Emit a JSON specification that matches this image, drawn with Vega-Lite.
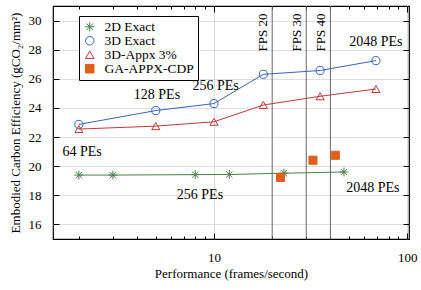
{
  "$schema": "https://vega.github.io/schema/vega-lite/v6.json",
  "width": 356,
  "height": 233,
  "autosize": {"type": "none"},
  "padding": {"left": 53, "top": 6, "right": 12, "bottom": 51},
  "config": {
    "view": {"stroke": "black", "strokeWidth": 1.2},
    "font": "Liberation Serif",
    "axis": {
      "labelFont": "Liberation Serif", "titleFont": "Liberation Serif",
      "labelFontSize": 13, "titleFontSize": 13, "labelColor": "black", "titleColor": "black",
      "titleFontWeight": "normal", "domain": false, "tickColor": "black", "tickWidth": 1
    },
    "legend": {
      "orient": "none", "legendX": 26, "legendY": 10,
      "strokeColor": "black", "fillColor": "white", "padding": 4,
      "labelFont": "Liberation Serif", "labelFontSize": 13.5, "labelColor": "black",
      "labelOffset": 8, "symbolSize": 72, "symbolStrokeWidth": 1, "rowPadding": -1
    },
    "text": {"font": "Liberation Serif"}
  },
  "datasets": {
    "series": [
      {"series": "2D Exact", "x": 2, "y": 19.39},
      {"series": "2D Exact", "x": 3, "y": 19.39},
      {"series": "2D Exact", "x": 8, "y": 19.42},
      {"series": "2D Exact", "x": 12, "y": 19.43},
      {"series": "2D Exact", "x": 23, "y": 19.52},
      {"series": "2D Exact", "x": 47, "y": 19.6},
      {"series": "3D Exact", "x": 2, "y": 22.87},
      {"series": "3D Exact", "x": 5, "y": 23.82},
      {"series": "3D Exact", "x": 10, "y": 24.3},
      {"series": "3D Exact", "x": 18, "y": 26.31},
      {"series": "3D Exact", "x": 35.4, "y": 26.57},
      {"series": "3D Exact", "x": 68.8, "y": 27.25},
      {"series": "3D-Appx 3%", "x": 2, "y": 22.55},
      {"series": "3D-Appx 3%", "x": 5, "y": 22.75},
      {"series": "3D-Appx 3%", "x": 10, "y": 23.05},
      {"series": "3D-Appx 3%", "x": 18, "y": 24.2},
      {"series": "3D-Appx 3%", "x": 35.4, "y": 24.8},
      {"series": "3D-Appx 3%", "x": 68.8, "y": 25.3},
      {"series": "GA-APPX-CDP", "x": 22.1, "y": 19.23},
      {"series": "GA-APPX-CDP", "x": 32.5, "y": 20.41},
      {"series": "GA-APPX-CDP", "x": 42.4, "y": 20.75}
    ],
    "fps": [
      {"fps": 20, "label": "FPS 20", "ty": 30.48},
      {"fps": 30, "label": "FPS 30", "ty": 30.48},
      {"fps": 40, "label": "FPS 40", "ty": 30.48}
    ],
    "notes": [
      {"text": "64 PEs", "x": 2.08, "y": 20.95},
      {"text": "128 PEs", "x": 5.07, "y": 24.91},
      {"text": "256 PEs", "x": 10.2, "y": 25.5},
      {"text": "256 PEs", "x": 8.46, "y": 18.0},
      {"text": "2048 PEs", "x": 68.7, "y": 28.52},
      {"text": "2048 PEs", "x": 66.3, "y": 18.5}
    ]
  },
  "layer": [
    {
      "data": {"name": "fps"},
      "mark": {"type": "rule", "color": "#666666", "strokeWidth": 1},
      "encoding": {
        "x": {
          "field": "fps", "type": "quantitative",
          "scale": {"type": "log", "domain": [1.47, 102], "nice": false},
          "axis": {
            "orient": "bottom", "values": [10, 100], "format": "d", "tickSize": -6,
            "labelPadding": 18, "grid": true, "gridColor": "#dddddd",
            "title": "Performance (frames/second)", "titlePadding": 3
          }
        }
      }
    },
    {
      "data": {"name": "series"},
      "transform": [{"filter": "datum.series === '2D Exact'"}],
      "mark": {"type": "line", "strokeWidth": 1, "color": "#4a804a"},
      "encoding": {
        "x": {
          "field": "x", "type": "quantitative",
          "scale": {"type": "log", "domain": [1.47, 102], "nice": false},
          "axis": {"orient": "top", "values": [10, 100], "labels": false, "tickSize": -6, "grid": false, "title": null}
        },
        "y": {
          "field": "y", "type": "quantitative",
          "scale": {"domain": [15, 31], "nice": false, "zero": false},
          "axis": {
            "orient": "left", "values": [16, 18, 20, 22, 24, 26, 28, 30], "tickSize": -6,
            "labelPadding": 18, "grid": true, "gridColor": "#dddddd",
            "title": "Embodied Carbon Efficiency (gCO₂/mm²)", "titlePadding": 6
          }
        }
      }
    },
    {
      "data": {"name": "series"},
      "transform": [{"filter": "datum.series === '3D Exact'"}],
      "mark": {"type": "line", "strokeWidth": 1, "color": "#3a63b5"},
      "encoding": {
        "x": {"field": "x", "type": "quantitative", "scale": {"type": "log", "domain": [1.47, 102], "nice": false}, "axis": null},
        "y": {"field": "y", "type": "quantitative", "scale": {"domain": [15, 31], "nice": false, "zero": false}, "axis": null}
      }
    },
    {
      "data": {"name": "series"},
      "transform": [{"filter": "datum.series === '3D-Appx 3%'"}],
      "mark": {"type": "line", "strokeWidth": 1, "color": "#c03a3a"},
      "encoding": {
        "x": {"field": "x", "type": "quantitative", "scale": {"type": "log", "domain": [1.47, 102], "nice": false}, "axis": null},
        "y": {"field": "y", "type": "quantitative", "scale": {"domain": [15, 31], "nice": false, "zero": false}, "axis": null}
      }
    },
    {
      "data": {"name": "series"},
      "mark": {"type": "point", "strokeWidth": 1, "size": 66, "opacity": 1},
      "encoding": {
        "x": {
          "field": "x", "type": "quantitative",
          "scale": {"type": "log", "domain": [1.47, 102], "nice": false},
          "axis": {"orient": "bottom", "values": [2, 3, 4, 5, 6, 7, 8, 9, 20, 30, 40, 50, 60, 70, 80, 90], "labels": false, "tickSize": -3, "grid": false, "title": null}
        },
        "y": {
          "field": "y", "type": "quantitative",
          "scale": {"domain": [15, 31], "nice": false, "zero": false},
          "axis": {"orient": "right", "values": [16, 18, 20, 22, 24, 26, 28, 30], "labels": false, "tickSize": -6, "grid": false, "title": null}
        },
        "stroke": {
          "field": "series", "type": "nominal",
          "scale": {"domain": ["2D Exact", "3D Exact", "3D-Appx 3%", "GA-APPX-CDP"], "range": ["#4a804a", "#3a63b5", "#c03a3a", "#e0601c"]},
          "legend": {"title": null}
        },
        "fill": {
          "field": "series", "type": "nominal",
          "scale": {"domain": ["2D Exact", "3D Exact", "3D-Appx 3%", "GA-APPX-CDP"], "range": ["transparent", "transparent", "transparent", "#e0601c"]},
          "legend": {"title": null}
        },
        "shape": {
          "field": "series", "type": "nominal",
          "scale": {"domain": ["2D Exact", "3D Exact", "3D-Appx 3%", "GA-APPX-CDP"], "range": ["M-1.1,0L1.1,0M0,-1.1L0,1.1M-0.78,-0.78L0.78,0.78M-0.78,0.78L0.78,-0.78", "circle", "triangle-up", "square"]},
          "legend": {"title": null}
        }
      }
    },
    {
      "data": {"name": "notes"},
      "mark": {"type": "text", "fontSize": 14, "color": "black", "align": "center", "baseline": "middle"},
      "encoding": {
        "x": {
          "field": "x", "type": "quantitative", "scale": {"type": "log", "domain": [1.47, 102], "nice": false},
          "axis": {"orient": "top", "values": [2, 3, 4, 5, 6, 7, 8, 9, 20, 30, 40, 50, 60, 70, 80, 90], "labels": false, "tickSize": -3, "grid": false, "title": null}
        },
        "y": {"field": "y", "type": "quantitative", "scale": {"domain": [15, 31], "nice": false, "zero": false}, "axis": null},
        "text": {"field": "text"}
      }
    },
    {
      "data": {"name": "fps"},
      "mark": {"type": "text", "fontSize": 13, "color": "black", "angle": 270, "align": "right", "baseline": "alphabetic", "dy": -5},
      "encoding": {
        "x": {"field": "fps", "type": "quantitative", "scale": {"type": "log", "domain": [1.47, 102], "nice": false}, "axis": null},
        "y": {"field": "ty", "type": "quantitative", "scale": {"domain": [15, 31], "nice": false, "zero": false}, "axis": null},
        "text": {"field": "label"}
      }
    }
  ],
  "resolve": {"axis": {"x": "independent", "y": "independent"}}
}
